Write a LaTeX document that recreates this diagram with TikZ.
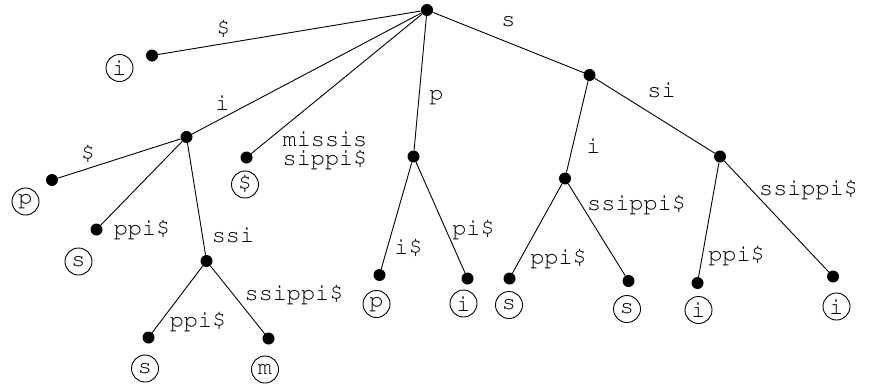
\documentclass[tikz,border=0pt]{standalone}
\usepackage[T1]{fontenc}
\renewcommand\ttdefault{pcr}
\begin{document}
\begin{tikzpicture}[x=1pt,y=-1pt,
  dot/.style={circle,fill=black,inner sep=0pt,minimum size=12pt},
  leaf/.style={circle,draw,line width=0.9pt,inner sep=0pt,minimum size=27pt,font=\ttfamily\fontsize{23.5}{19}\selectfont},
  lbl/.style={anchor=base,inner sep=0pt,font=\ttfamily\fontsize{23.5}{19}\selectfont},
  edge/.style={line width=0.9pt}]
\useasboundingbox (0,0) rectangle (872,388);
% internal nodes and leaf dots
\node[dot] (r) at (427,10) {};
\node[dot] (a1) at (152,55.5) {};
\node[dot] (n1) at (186.5,137) {};
\node[dot] (a2) at (52,180) {};
\node[dot] (a3) at (96.5,229.5) {};
\node[dot] (n2) at (206.5,261) {};
\node[dot] (a4) at (148.5,337.5) {};
\node[dot] (a5) at (268.5,338.5) {};
\node[dot] (a6) at (246.5,157.5) {};
\node[dot] (n3) at (413.5,156.5) {};
\node[dot] (a7) at (379.5,275) {};
\node[dot] (a8) at (467.5,278.5) {};
\node[dot] (n4) at (589.5,75) {};
\node[dot] (n5) at (565,178.5) {};
\node[dot] (a9) at (509.5,278.5) {};
\node[dot] (a10) at (628.5,281) {};
\node[dot] (n6) at (720,156.5) {};
\node[dot] (a11) at (697.5,283) {};
\node[dot] (a12) at (833,276.5) {};
% leaf circles
\node[leaf] (c1) at (119.5,68) {i};
\node[leaf] (c2) at (25.5,201.5) {p};
\node[leaf] (c3) at (78.5,261.5) {s};
\node[leaf] (c4) at (145,368.5) {s};
\node[leaf] (c5) at (265,369.5) {m};
\node[leaf] (c6) at (245,184.5) {\$};
\node[leaf] (c7) at (376.5,304) {p};
\node[leaf] (c8) at (463.5,303.5) {i};
\node[leaf] (c9) at (509,305) {s};
\node[leaf] (c10) at (627,309) {s};
\node[leaf] (c11) at (698.5,310) {i};
\node[leaf] (c12) at (836.5,306.5) {i};
% edges
\draw[edge] (r) -- (a1);
\draw[edge] (r) -- (n1);
\draw[edge] (r) -- (a6);
\draw[edge] (r) -- (n3);
\draw[edge] (r) -- (n4);
\draw[edge] (n1) -- (a2);
\draw[edge] (n1) -- (a3);
\draw[edge] (n1) -- (n2);
\draw[edge] (n2) -- (a4);
\draw[edge] (n2) -- (a5);
\draw[edge] (n3) -- (a7);
\draw[edge] (n3) -- (a8);
\draw[edge] (n4) -- (n5);
\draw[edge] (n4) -- (n6);
\draw[edge] (n5) -- (a9);
\draw[edge] (n5) -- (a10);
\draw[edge] (n6) -- (a11);
\draw[edge] (n6) -- (a12);
% edge labels
\node[lbl] (l1) at (223.5,35) {\$};
\node[lbl] (l2) at (222.5,110) {i};
\node[lbl] (l3) at (508.5,26.5) {s};
\node[lbl] (l4) at (88,160) {\$};
\node[lbl] (l5) at (142,235) {ppi\$};
\node[lbl] (l6) at (233,242) {ssi};
\node[lbl] (l7) at (198,327) {ppi\$};
\node[lbl] (l8) at (294,300) {ssippi\$};
\node[lbl,align=center,anchor=center] (l9) at (325,150) {missis\\sippi\$};
\node[lbl] (l10) at (436.5,100) {p};
\node[lbl] (l11) at (408.5,254) {i\$};
\node[lbl] (l12) at (473.5,235) {pi\$};
\node[lbl] (l13) at (661.5,97) {si};
\node[lbl] (l14) at (593.5,153) {i};
\node[lbl] (l15) at (636.5,210) {ssippi\$};
\node[lbl] (l16) at (558.5,264) {ppi\$};
\node[lbl] (l17) at (736.5,261) {ppi\$};
\node[lbl] (l18) at (808.5,195) {ssippi\$};
\end{tikzpicture}
\end{document}
